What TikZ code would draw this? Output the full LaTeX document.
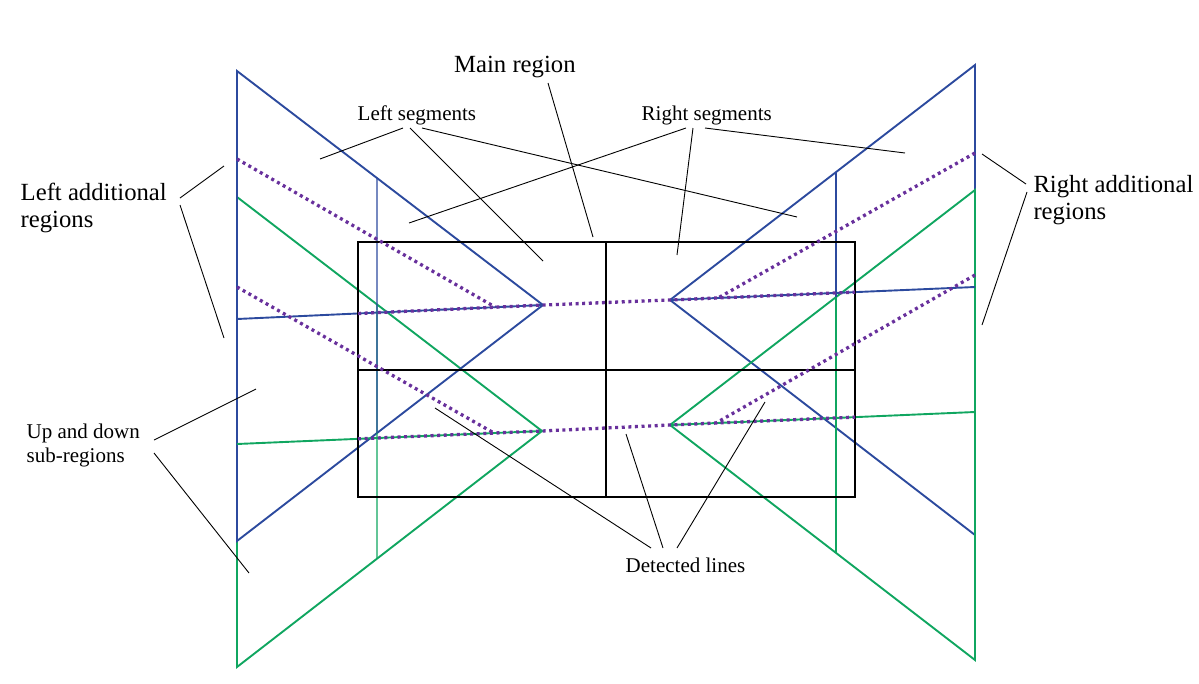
\documentclass[tikz,border=0pt]{standalone}
\usepackage{fontspec}
\setmainfont{Liberation Serif}
\definecolor{rblue}{RGB}{44,74,158}
\definecolor{rgreen}{RGB}{16,166,96}
\definecolor{rpurple}{RGB}{104,48,156}
\begin{document}
\begin{tikzpicture}[x=1pt,y=-1pt,
  blueline/.style={draw=rblue,line width=1.9pt,line join=miter},
  greenline/.style={draw=rgreen,line width=1.9pt,line join=miter},
  thinblue/.style={draw=rblue,line width=1.3pt},
  thingreen/.style={draw=rgreen,line width=1.3pt},
  frame/.style={draw=black,line width=1.9pt},
  dotline/.style={draw=rpurple,line width=3.3pt,dash pattern=on 3pt off 3.6pt},
  leader/.style={draw=black,line width=0.9pt},
  bigtxt/.style={anchor=base west,inner sep=0pt,font=\fontsize{24.7}{27}\selectfont},
  smalltxt/.style={anchor=base west,inner sep=0pt,font=\fontsize{21}{24}\selectfont}]
\useasboundingbox (0,0) rectangle (1199,683);
% geometry points
\coordinate (LBt) at (237,71);  \coordinate (LBa) at (543,305); \coordinate (LBb) at (237,541);
\coordinate (LGt) at (237,197); \coordinate (LGa) at (542,431); \coordinate (LGb) at (237,667);
\coordinate (RBt) at (975,65);  \coordinate (RBa) at (670,300); \coordinate (RBb) at (975,535);
\coordinate (RGt) at (975,190); \coordinate (RGa) at (670,425); \coordinate (RGb) at (975,660);
\coordinate (LBh) at (237,319); \coordinate (LGh) at (237,444);
\coordinate (RBh) at (975,287); \coordinate (RGh) at (975,412);
\coordinate (lv1) at (377,0); \coordinate (lv2) at (377,700);
\coordinate (rv1) at (836,0); \coordinate (rv2) at (836,700);
% left triangles
\draw[greenline] (LGt) -- (LGa) -- (LGb) -- cycle;
\draw[blueline] (LBt) -- (LBa) -- (LBb) -- cycle;
% right triangles
\draw[blueline] (RBt) -- (RBa) -- (RBb) -- cycle;
\draw[greenline] (RGt) -- (RGa) -- (RGb) -- cycle;
% horizontals
\draw[blueline] (LBh) -- (LBa);
\draw[greenline] (LGh) -- (LGa);
\draw[blueline] (RBa) -- (RBh);
\draw[greenline] (RGa) -- (RGh);
% thin verticals
\draw[thingreen] (intersection of LGt--LGa and lv1--lv2) -- (intersection of LGb--LGa and lv1--lv2);
\draw[thinblue] (intersection of LBt--LBa and lv1--lv2) -- (intersection of LBb--LBa and lv1--lv2);
\draw[thinblue] (intersection of RBt--RBa and rv1--rv2) -- (intersection of RBb--RBa and rv1--rv2);
\draw[thingreen] (intersection of RGt--RGa and rv1--rv2) -- (intersection of RGb--RGa and rv1--rv2);
% main region frame
\coordinate (F1) at (358,242); \coordinate (F2) at (855,497);
\draw[frame] (F1) rectangle (F2);
\draw[frame] (358,370) -- (855,370);
\draw[frame] (606,242) -- (606,497);
% detected lines (dotted)
\coordinate (DLu) at (358,313.5); \coordinate (DRu) at (855,292.1);
\coordinate (DLd) at (358,438.8); \coordinate (DRd) at (855,417.1);
\draw[dotline] (DLu) -- (LBa) -- (RBa) -- (DRu);
\draw[dotline] (DLd) -- (LGa) -- (RGa) -- (DRd);
\coordinate (P1a) at (237,159); \coordinate (P1b) at (495,307);
\coordinate (P2a) at (237,287); \coordinate (P2b) at (493,432.5);
\coordinate (P3a) at (975,153); \coordinate (P3b) at (718,298);
\coordinate (P4a) at (975,275); \coordinate (P4b) at (716,423);
\draw[dotline] (P1a) -- (P1b);
\draw[dotline] (P2a) -- (P2b);
\draw[dotline] (P3a) -- (P3b);
\draw[dotline] (P4a) -- (P4b);
% labels
\node[bigtxt] (mainr) at (454,72) {Main region};
\node[smalltxt] (lseg) at (357.5,120) {Left segments};
\node[smalltxt] (rseg) at (641.5,120) {Right segments};
\node[bigtxt] (lad1) at (20.5,200.5) {Left additional};
\node[bigtxt] (lad2) at (20.5,227.3) {regions};
\node[bigtxt] (rad1) at (1033.3,192.7) {Right additional};
\node[bigtxt] (rad2) at (1033.3,219) {regions};
\node[smalltxt] (ud1) at (26.5,438.3) {Up and down};
\node[smalltxt] (ud2) at (26.5,462.7) {sub-regions};
\node[smalltxt] (det) at (625.5,572.3) {Detected lines};
% leader coordinates
\coordinate (mr0) at (548,83);  \coordinate (mr1) at (593,237);
\coordinate (ls0) at (403,128); \coordinate (ls1) at (320,159);
\coordinate (ls2) at (410,128); \coordinate (ls3) at (543,261);
\coordinate (ls4) at (422,128); \coordinate (ls5) at (797,217);
\coordinate (rs0) at (686,128); \coordinate (rs1) at (409,223);
\coordinate (rs2) at (693,128); \coordinate (rs3) at (677,255);
\coordinate (rs4) at (705,128); \coordinate (rs5) at (905,153);
\coordinate (la0) at (180,198); \coordinate (la1) at (224,166);
\coordinate (la2) at (180,205); \coordinate (la3) at (224,338);
\coordinate (ra0) at (1026,184); \coordinate (ra1) at (982,154);
\coordinate (ra2) at (1027,192); \coordinate (ra3) at (982,325);
\coordinate (ud0) at (154,440); \coordinate (udA) at (256,389);
\coordinate (udB) at (154,453); \coordinate (udC) at (249,573);
\coordinate (dt0) at (651,548); \coordinate (dt1) at (435,408);
\coordinate (dt2) at (663,548); \coordinate (dt3) at (626,434);
\coordinate (dt4) at (677,548); \coordinate (dt5) at (765,402);
\draw[leader] (mr0) -- (mr1);
\draw[leader] (ls0) -- (ls1);
\draw[leader] (ls2) -- (ls3);
\draw[leader] (ls4) -- (ls5);
\draw[leader] (rs0) -- (rs1);
\draw[leader] (rs2) -- (rs3);
\draw[leader] (rs4) -- (rs5);
\draw[leader] (la0) -- (la1);
\draw[leader] (la2) -- (la3);
\draw[leader] (ra0) -- (ra1);
\draw[leader] (ra2) -- (ra3);
\draw[leader] (ud0) -- (udA);
\draw[leader] (udB) -- (udC);
\draw[leader] (dt0) -- (dt1);
\draw[leader] (dt2) -- (dt3);
\draw[leader] (dt4) -- (dt5);
\end{tikzpicture}
\end{document}
